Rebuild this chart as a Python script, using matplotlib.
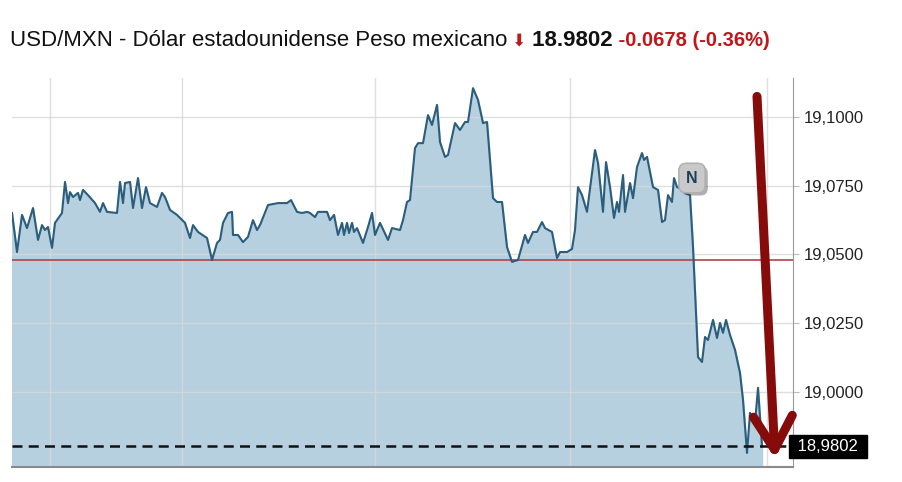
import matplotlib.pyplot as plt
import matplotlib.patheffects as pe

# intraday USD/MXN quotes (minutes from chart start, price)
minutes = [0, 5, 10, 15, 21, 26, 30, 33, 36, 40, 43, 50, 53, 56, 58, 61, 66, 68, 71, 76,
           83, 88, 91, 95, 105, 108, 111, 113, 118, 121, 126, 130, 134, 138, 145, 150, 153, 158, 165, 173,
           178, 181, 186, 195, 200, 205, 208, 211, 216, 220, 221, 226, 231, 236, 241, 245, 248, 256, 266, 275,
           279, 285, 290, 295, 298, 303, 306, 315, 318, 322, 326, 330, 332, 335, 337, 340, 342, 345, 351, 356,
           360, 363, 368, 376, 380, 388, 391, 395, 398, 403, 406, 411, 416, 420, 425, 428, 433, 436, 443, 448,
           453, 456, 461, 466, 471, 475, 481, 485, 490, 495, 500, 506, 513, 516, 521, 525, 530, 533, 540, 545,
           548, 555, 560, 563, 566, 570, 575, 583, 586, 591, 594, 598, 602, 605, 607, 611, 613, 618, 621, 625,
           630, 632, 635, 641, 646, 650, 653, 656, 660, 662, 665, 668, 673, 678, 681, 686, 690, 693, 696, 701,
           705, 708, 711, 714, 718, 723, 728, 731, 735, 738, 743, 746, 750]
prices = [19.0651, 19.0509, 19.0644, 19.0596, 19.0669, 19.0553, 19.0607, 19.0589, 19.0600, 19.0524,
          19.0615, 19.0651, 19.0764, 19.0687, 19.0727, 19.0709, 19.0724, 19.0698, 19.0735, 19.0716,
          19.0687, 19.0655, 19.0687, 19.0655, 19.0651, 19.0764, 19.0687, 19.0760, 19.0764, 19.0669,
          19.0778, 19.0669, 19.0745, 19.0687, 19.0673, 19.0724, 19.0709, 19.0662, 19.0644, 19.0615,
          19.0560, 19.0607, 19.0582, 19.0560, 19.0480, 19.0542, 19.0553, 19.0615, 19.0651, 19.0655,
          19.0571, 19.0571, 19.0545, 19.0564, 19.0625, 19.0589, 19.0607, 19.0680, 19.0687, 19.0687,
          19.0698, 19.0655, 19.0651, 19.0655, 19.0651, 19.0636, 19.0655, 19.0655, 19.0625, 19.0644,
          19.0571, 19.0615, 19.0571, 19.0615, 19.0578, 19.0615, 19.0582, 19.0596, 19.0542, 19.0600,
          19.0651, 19.0571, 19.0615, 19.0553, 19.0596, 19.0589, 19.0625, 19.0691, 19.0698, 19.0887,
          19.0905, 19.0905, 19.1007, 19.0971, 19.1044, 19.0909, 19.0855, 19.0862, 19.0978, 19.0953,
          19.0982, 19.0982, 19.1105, 19.1062, 19.0978, 19.0982, 19.0705, 19.0691, 19.0691, 19.0527,
          19.0473, 19.0480, 19.0571, 19.0542, 19.0582, 19.0582, 19.0618, 19.0596, 19.0582, 19.0487,
          19.0509, 19.0509, 19.0520, 19.0589, 19.0745, 19.0716, 19.0655, 19.0880, 19.0833, 19.0655,
          19.0836, 19.0745, 19.0633, 19.0691, 19.0655, 19.0789, 19.0655, 19.0760, 19.0705, 19.0818,
          19.0869, 19.0844, 19.0855, 19.0745, 19.0735, 19.0618, 19.0625, 19.0716, 19.0691, 19.0778,
          19.0745, 19.0742, 19.0724, 19.0716, 19.0527, 19.0127, 19.0109, 19.0200, 19.0189, 19.0262,
          19.0196, 19.0251, 19.0215, 19.0262, 19.0207, 19.0153, 19.0069, 18.9971, 18.9778, 18.9924,
          18.9887, 19.0015, 18.9802]

prev_close = 19.0480
last_price = 18.9802
y_ticks = [19.0, 19.025, 19.05, 19.075, 19.1]
y_labels = ['19,0000', '19,0250', '19,0500', '19,0750', '19,1000']
time_grid = [38, 170, 363, 558, 755]
news_minute = 680
news_price = 19.0778

plt.rcParams['font.family'] = ['Liberation Sans', 'DejaVu Sans']

fig = plt.figure(figsize=(9.03, 4.82), dpi=100)
ax = fig.add_axes([12 / 903, 15 / 482, 781 / 903, 389 / 482])
ax.set_xlim(0, 781)
ax.set_ylim(18.9727, 19.1142)

ax.fill_between(minutes, prices, 18.9727, color='#b7d0e0', zorder=1)
for t in time_grid:
    ax.axvline(t, color='#d8d8d8', lw=1, zorder=2, alpha=0.8)
for v in y_ticks:
    ax.axhline(v, color='#d8d8d8', lw=1, zorder=2, alpha=0.8)
ax.plot(minutes, prices, color='#2b5d7d', lw=1.5, zorder=4)
ax.axhline(prev_close, color='#b0434a', lw=1.2, zorder=3)
ax.axhline(last_price, color='#111111', lw=1.8, ls=(0, (4, 2.5)), zorder=5)

# news marker with a drop shadow
news = ax.text(news_minute, news_price, 'N', ha='center', va='center', fontsize=11.5,
               fontweight='bold', color='#1d3f5e', zorder=6,
               bbox=dict(boxstyle='round,pad=0.45', fc='#c9c9c9', ec='#b0b0b0', lw=1))
news.get_bbox_patch().set_path_effects([pe.withSimplePatchShadow(offset=(2, -2), alpha=0.4),
                                        pe.Normal()])

# hand drawn arrow
ax.annotate('', xy=(763, 18.9758), xytext=(745, 19.1075),
            arrowprops=dict(arrowstyle='->,head_length=1.2,head_width=0.7',
                            color='#860c0c', lw=6.5, mutation_scale=20,
                            shrinkA=0, shrinkB=0),
            zorder=7, annotation_clip=False)

for s in ['top', 'left']:
    ax.spines[s].set_visible(False)
ax.spines['right'].set_color('#9a9a9a')
ax.spines['bottom'].set_color('#8a8a8a')
ax.spines['bottom'].set_linewidth(1.5)
ax.set_xticks([])
ax.yaxis.tick_right()
ax.set_yticks(y_ticks)
ax.set_yticklabels(y_labels)
ax.tick_params(axis='y', length=4, color='#bbbbbb', labelsize=12, pad=4, labelcolor='#222222')

# last price tag
ax.text(1.0, last_price, ' 18,9802 ', transform=ax.get_yaxis_transform(), ha='left', va='center',
        fontsize=12, color='white', zorder=8,
        bbox=dict(boxstyle='square,pad=0.25', fc='black', ec='black'))

# title pieces chained one after another
t1 = fig.text(10 / 903, 1 - 41 / 482, 'USD/MXN - Dólar estadounidense Peso mexicano',
              fontsize=16, color='#111111', va='center')
t2 = ax.annotate(' \u2B07', xy=(1, 0.5), xycoords=t1, va='center', ha='left',
                 fontsize=12, color='#c0171b', family=['DejaVu Sans'])
t3 = ax.annotate(' 18.9802', xy=(1, 0.5), xycoords=t2, va='center', ha='left',
                 fontsize=16, fontweight='bold', color='#111111')
ax.annotate(' -0.0678 (-0.36%)', xy=(1, 0.5), xycoords=t3, va='center', ha='left',
            fontsize=14.5, fontweight='bold', color='#c0171b')

plt.savefig('out.png', dpi=100)
